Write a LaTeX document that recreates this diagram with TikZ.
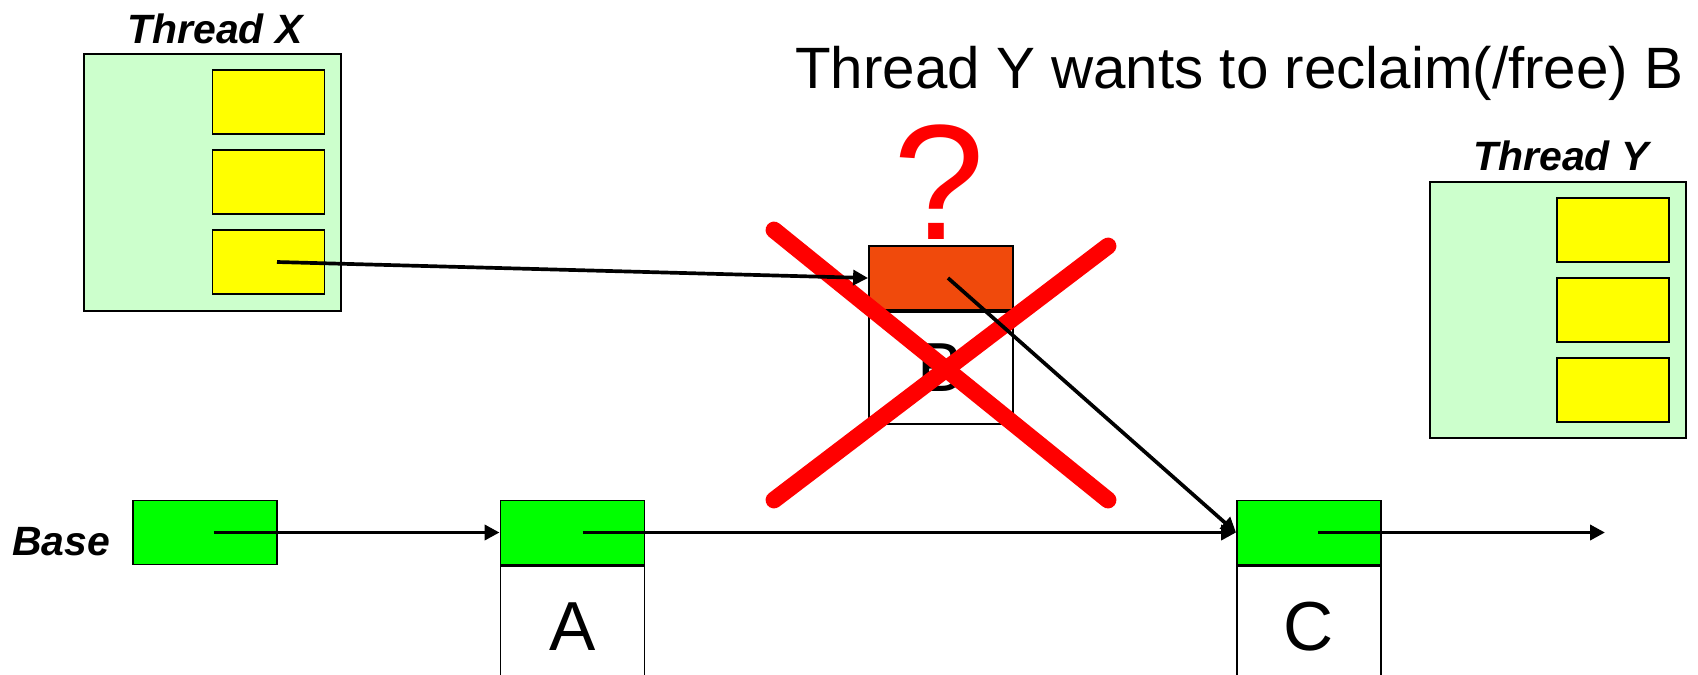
\documentclass[tikz,border=0pt]{standalone}
\usepackage{fontspec}
\setmainfont{Liberation Sans}
\usetikzlibrary{calc,arrows.meta}

\definecolor{paleg}{HTML}{CCFFCC}
\definecolor{nodeg}{HTML}{00FF00}
\definecolor{slotc}{HTML}{FFFF00}
\definecolor{freed}{HTML}{F04A0C}

\begin{document}
\begin{tikzpicture}[x=0.02cm,y=-0.02cm,
		frame/.style={draw,line width=1pt,fill=paleg,minimum width=5.13cm,minimum height=5.13cm},
		slot/.style={draw,line width=1.1pt,fill=slotc,minimum width=2.24cm,minimum height=1.28cm},
		ptr/.style={draw,line width=1.1pt,fill=nodeg,minimum width=2.88cm,minimum height=1.28cm},
		cell/.style={draw,line width=1.1pt,fill=white,minimum width=2.88cm,font=\fontsize{39.5}{42}\selectfont},
		tag/.style={anchor=base,font=\bfseries\itshape\fontsize{23.3}{26}\selectfont},
		link/.style={line width=2.1pt,-{Triangle[length=8.5pt,width=8.5pt]}},
		cross/.style={red,line width=9.6pt,line cap=round}]
		\useasboundingbox (0,0) rectangle (1698,674);
		\coordinate (tail) at (1605,532.5);
		\coordinate (k1) at (774,230);
		\coordinate (k2) at (1108,500);
		\coordinate (k3) at (1108,246);
		\coordinate (k4) at (774,500);
		% threads and their hazard slots
		\node[frame] (tx) at (212.5,182.5) {};
		\node[slot] (x1) at (268.5,102) {};
		\node[slot] (x2) at (268.5,182) {};
		\node[slot] (x3) at (268.5,262) {};
		\node[tag] (lx) at (215,43) {Thread X};
		\node[frame] (ty) at (1558,310) {};
		\node[slot] (y1) at (1613,230) {};
		\node[slot] (y2) at (1613,310) {};
		\node[slot] (y3) at (1613,390) {};
		\node[tag] (ly) at (1561,170) {Thread Y};
		% list
		\node[ptr] (base) at (205,532.5) {};
		\node[tag] (lb) at (61,555) {Base};
		\node[ptr] (A) at (572.5,532.5) {};
		\node[cell,anchor=north,minimum height=2.4cm] (Ad) at (A.south) {A};
		\node[ptr,fill=freed] (B) at (941,278) {};
		\node[cell,anchor=north,minimum height=2.24cm] (Bd) at (B.south) {B};
		\node[ptr] (C) at (1309,532.5) {};
		\node[cell,anchor=north,minimum height=2.4cm] (Cd) at (C.south) {C};
		% texts
		\node[anchor=base west,font=\fontsize{33.2}{36}\selectfont] (title) at (789,88) {Thread Y wants to reclaim(/free) B};
		\node[anchor=base,text=red,font=\fontsize{93.5}{100}\selectfont] (qm) at (939,239) {?};
		\draw[cross] (k1) -- (k2);
		\draw[cross] (k3) -- (k4);
		% pointers
		\draw[link] ([xshift=0.18cm]base.center) -- (A.west);
		\draw[link] ([xshift=0.2cm]A.center) -- (C.west);
		\draw[link] ([xshift=0.18cm]C.center) -- (tail);
		\draw[link] ([xshift=0.17cm]x3.center) -- (B.west);
		\draw[link] ([xshift=0.14cm]B.center) -- (C.west);
\end{tikzpicture}
\end{document}
